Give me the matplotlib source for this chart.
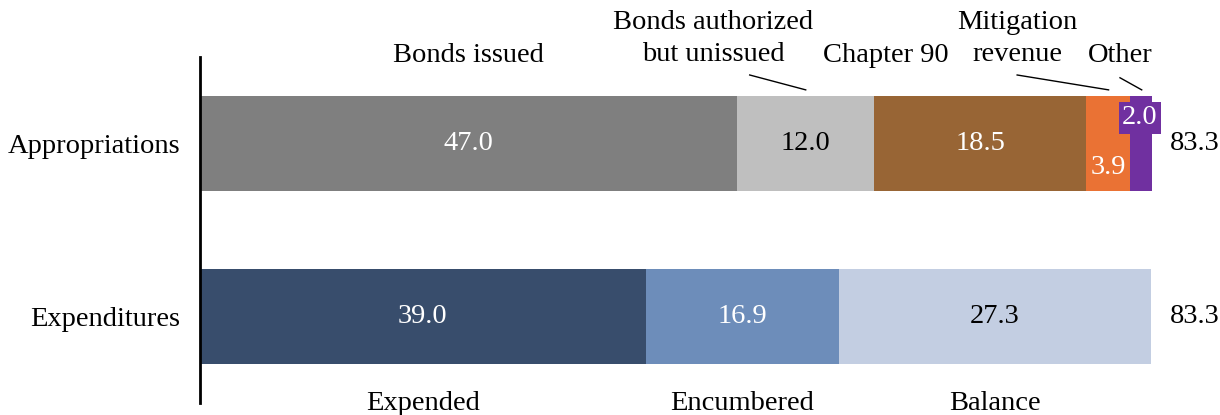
import matplotlib.pyplot as plt

plt.rcParams['font.family'] = ['Liberation Serif', 'DejaVu Serif']

# data
categories = ['Expenditures', 'Appropriations']
approp_labels = ['Bonds issued', 'Bonds authorized\nbut unissued', 'Chapter 90',
                 'Mitigation\nrevenue', 'Other']
approp_values = [47.0, 12.0, 18.5, 3.9, 2.0]
approp_colors = ['#7f7f7f', '#bfbfbf', '#986535', '#ea7234', '#7030a0']
approp_text = ['white', 'black', 'white', 'white', 'white']

expend_labels = ['Expended', 'Encumbered', 'Balance']
expend_values = [39.0, 16.9, 27.3]
expend_colors = ['#384d6c', '#6d8dba', '#c3cee2']
expend_text = ['white', 'white', 'black']

totals = [83.3, 83.3]

fs = 20.5
fig = plt.figure(figsize=(12.2, 4.15), dpi=100)
ax = fig.add_axes([200 / 1220, 12 / 415, 952 / 1220, 346 / 415])
h = 0.553

# appropriations bar
lefts = []
left = 0
for v, c in zip(approp_values, approp_colors):
    ax.barh(1, v, left=left, height=h, color=c)
    lefts.append(left)
    left += v
for i in range(3):
    ax.text(lefts[i] + approp_values[i] / 2, 1, f'{approp_values[i]:.1f}',
            ha='center', va='center', color=approp_text[i], fontsize=fs)
ax.text(lefts[3] + approp_values[3] / 2, 0.86, f'{approp_values[3]:.1f}',
        ha='center', va='center', color='white', fontsize=fs)
ax.text(lefts[4] + 0.85, 1.148, f'{approp_values[4]:.1f}', ha='center', va='center',
        color='white', fontsize=fs,
        bbox=dict(boxstyle='square,pad=0.12', fc='#7030a0', ec='none'))

# expenditures bar
left = 0
for v, c, tc, lab in zip(expend_values, expend_colors, expend_text, expend_labels):
    ax.barh(0, v, left=left, height=h, color=c)
    ax.text(left + v / 2, 0, f'{v:.1f}', ha='center', va='center', color=tc, fontsize=fs)
    ax.text(left + v / 2, -0.5, lab, ha='center', va='center', fontsize=fs, clip_on=False)
    left += v

for yi, t in zip([0, 1], totals[::-1]):
    ax.text(87.05, yi, f'{t:.1f}', ha='center', va='center', fontsize=fs, clip_on=False)

# top labels
label_x = [23.5, 44.9, 60.0, 71.5, 80.5]
label_y = [1.51, 1.607, 1.51, 1.607, 1.51]
for x, y, t in zip(label_x, label_y, approp_labels):
    ax.text(x, y, t, ha='center', va='center', fontsize=fs, linespacing=1.35, clip_on=False)

# leader lines
ax.plot([48.1, 53.0], [1.396, 1.31], color='black', lw=1, clip_on=False)
ax.plot([71.5, 79.5], [1.396, 1.31], color='black', lw=1, clip_on=False)
ax.plot([80.5, 82.4], [1.38, 1.31], color='black', lw=1, clip_on=False)

ax.set_xlim(0, 83.3)
ax.set_ylim(-0.5, 1.5)
ax.set_yticks([0, 1])
ax.set_yticklabels(categories, fontsize=fs)
ax.tick_params(axis='y', length=0, pad=14)
ax.set_xticks([])
for s in ['top', 'right', 'bottom']:
    ax.spines[s].set_visible(False)
ax.spines['left'].set_linewidth(2)

fig.savefig('out.png', dpi=100)
